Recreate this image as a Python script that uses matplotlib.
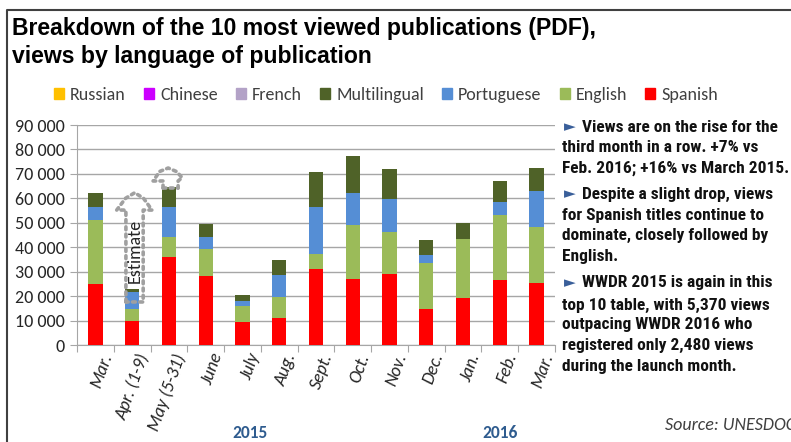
import numpy as np
import matplotlib
matplotlib.use("Agg")
import matplotlib.pyplot as plt
from matplotlib.patches import Patch
from matplotlib import font_manager

# data (thousands of views)
months = ["Mar.", "Apr. (1-9)", "May (5-31)", "June", "July", "Aug.", "Sept.",
          "Oct.", "Nov.", "Dec.", "Jan.", "Feb.", "Mar."]
spanish = [24.8, 9.9, 35.9, 28.4, 9.5, 10.9, 31.0, 27.0, 29.2, 14.9, 19.4, 26.6, 25.2]
english = [26.3, 4.8, 8.1, 10.7, 6.5, 8.6, 6.2, 22.0, 17.0, 18.5, 24.1, 26.7, 23.0]
portuguese = [5.4, 7.1, 12.5, 4.9, 2.0, 9.3, 19.3, 13.2, 13.5, 3.4, 0.0, 5.1, 14.7]
multilingual = [5.7, 1.1, 8.3, 5.6, 2.3, 5.8, 14.3, 15.3, 12.3, 6.3, 6.3, 8.7, 9.7]
french = [0, 0, 0, 0, 0, 0, 0, 0, 0, 0, 0, 0, 0]
chinese = [0, 0, 0, 0, 0, 0, 0, 0, 0, 0, 0, 0, 0]
russian = [0, 0, 0, 0, 0, 0, 0, 0, 0, 0, 0, 0, 0]

series = [("Spanish", spanish, "#FF0000"),
          ("English", english, "#9BBB59"),
          ("Portuguese", portuguese, "#558ED5"),
          ("Multilingual", multilingual, "#4F6228"),
          ("French", french, "#B3A2C7"),
          ("Chinese", chinese, "#CC00FF"),
          ("Russian", russian, "#FFC000")]

notes = [
    ["Views are on the rise for the", "third month in a row. +7% vs", "Feb. 2016; +16% vs March 2015."],
    ["Despite a slight drop, views", "for Spanish titles continue to", "dominate, closely followed by", "English."],
    ["WWDR 2015 is again in this", "top 10 table, with 5,370 views", "outpacing WWDR 2016 who",
     "registered only 2,480 views", "during the launch month."],
]

fonts = font_manager.fontManager.ttflist
installed = {f.name for f in fonts}
bold_ok = {f.name for f in fonts if (f.weight if isinstance(f.weight, int) else 700
                                     if "bold" in str(f.weight) else 400) >= 600}


def pick(cands, need_bold=False):
    for c in cands:
        if c in installed and (not need_bold or c in bold_ok):
            return c
    return "DejaVu Sans"


NARROW = pick(["Liberation Sans Narrow", "Arial Narrow", "Archivo Narrow", "Roboto Condensed",
               "PT Sans Narrow", "Pragati Narrow", "Open Sans Condensed", "Liberation Sans"],
              need_bold=True)
CALIBRI = pick(["Carlito", "Calibri", "Liberation Sans"])
ARIAL = pick(["Arimo", "Liberation Sans"])

W, H = 791, 442
fig = plt.figure(figsize=(W / 100, H / 100), dpi=100)
plt.rcParams['font.family'] = [CALIBRI, 'DejaVu Sans']


def fx(px):
    return px / W


def fy(py):
    return 1 - py / H


# frame around the whole thing
fig.add_artist(plt.Line2D([fx(7), fx(7), fx(800)], [fy(460), fy(10), fy(10)],
                          color="#404040", lw=1.5, transform=fig.transFigure))

ax = fig.add_axes([fx(77), fy(345), fx(555) - fx(77), fy(125) - fy(345)])
x = np.arange(len(months))
bottom = np.zeros(len(months))
for name, vals, col in series:
    v = np.array(vals) * 1000
    ax.bar(x, v, 0.39, bottom=bottom, color=col, label=name, zorder=3)
    bottom += v

ax.set_xlim(-0.5, len(months) - 0.5)
ax.set_ylim(0, 90000)
ax.set_yticks(np.arange(0, 90001, 10000))
ax.set_yticklabels([f"{v:,}".replace(",", " ") for v in range(0, 90001, 10000)],
                   fontsize=13, color="#262626")
ax.yaxis.grid(True, color="#A6A6A6", lw=1, zorder=0)
ax.set_xticks(np.arange(-0.5, len(months), 1))
ax.set_xticklabels([])
ax.tick_params(axis="x", length=5, color="#A6A6A6", direction="out")
ax.tick_params(axis="y", length=5, color="#A6A6A6", pad=4)
for s in ["top", "right"]:
    ax.spines[s].set_visible(False)
for s in ["left", "bottom"]:
    ax.spines[s].set_color("#A6A6A6")

for i, m in enumerate(months):
    ax.text(i + 0.12, -2500, m, rotation=70, ha="right", va="top", rotation_mode="anchor",
            fontsize=13, style="italic", color="#262626")

# "Estimate" dotted arrow callouts
dot = dict(color="#A0A0A0", lw=2.6, ls=(0, (0.8, 1.2)), zorder=5, solid_capstyle="round",
           dash_capstyle="round")
ax.plot([0.83, 0.83, 0.58, 0.82, 1.07, 1.31, 1.54, 1.30, 1.30, 0.83],
        [17600, 55200, 55200, 60000, 62300, 60000, 55200, 55200, 17600, 17600], **dot)
ax.text(1.06, 38500, "Estimate", rotation=90, ha="center", va="center", fontsize=13,
        color="#262626", zorder=6)
ax.plot([1.84, 1.84, 1.57, 1.75, 1.98, 2.2, 2.36, 2.25, 2.25],
        [64200, 67100, 67100, 71000, 72400, 71000, 68500, 67100, 64200], **dot)
ax.plot([1.84, 2.25], [64200, 64200], **dot)

# title
for txt, yy in [("Breakdown of the 10 most viewed publications (PDF),", 28),
                ("views by language of publication", 57)]:
    fig.text(fx(12), fy(yy), txt, fontsize=16.6, fontweight="bold", va="center", ha="left",
             family=[ARIAL, "DejaVu Sans"])

# legend
handles = [Patch(color=c, label=n) for n, _, c in series[::-1]]
fig.legend(handles=handles, loc="center", bbox_to_anchor=(fx(386), fy(95)), ncol=7,
           frameon=False, fontsize=13, handlelength=0.55, handleheight=0.55,
           handletextpad=0.35, columnspacing=1.0, labelcolor="#404040")

# side notes
line_y = [[127, 148, 168], [194, 215, 235, 256], [283, 305, 325, 345, 367]]
for para, ys in zip(notes, line_y):
    fig.text(fx(564), fy(ys[0]), "\u25BA", color="#3A5F9A", fontsize=11,
             va="center", ha="left", family=['DejaVu Sans'])
    for j, (line, yy) in enumerate(zip(para, ys)):
        fig.text(fx(582 if j == 0 else 562), fy(yy), line, fontsize=12.5, fontweight="bold",
                 va="center", ha="left", family=[NARROW, "DejaVu Sans"], color="#111111")

fig.text(fx(250), fy(433), "2015", fontsize=12.5, fontweight="bold", color="#2F5C8F",
         ha="center", va="center")
fig.text(fx(500), fy(433), "2016", fontsize=12.5, fontweight="bold", color="#2F5C8F",
         ha="center", va="center")
fig.text(fx(665), fy(425), "Source: UNESDOC", fontsize=13, style="italic", color="#404040",
         ha="left", va="center")

fig.savefig("out.png", dpi=100)
